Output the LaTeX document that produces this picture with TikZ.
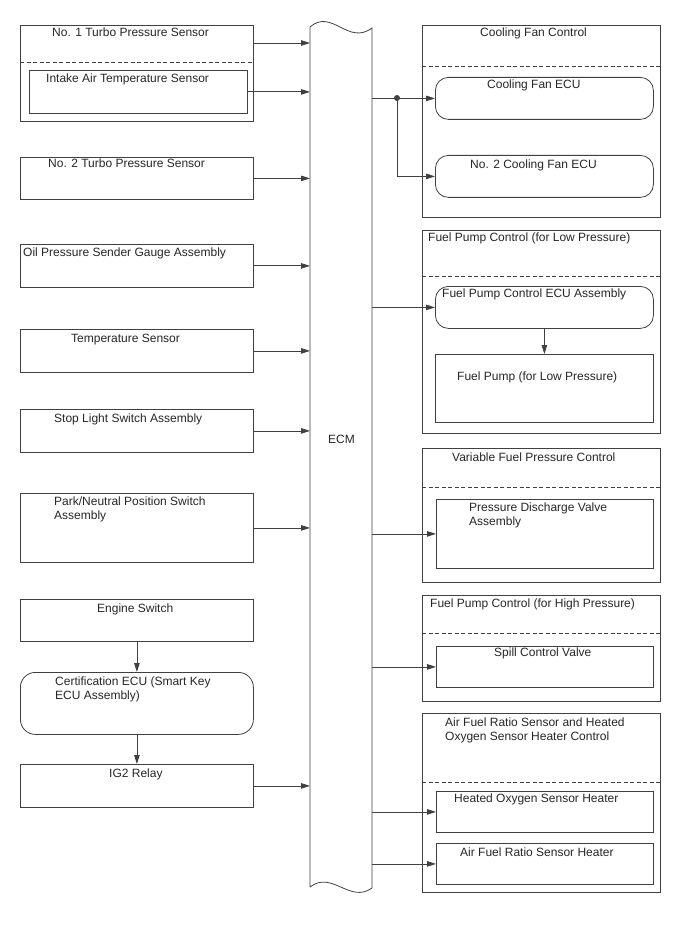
\documentclass[tikz,border=0pt]{standalone}
\usepackage{fontspec}
\setmainfont{Liberation Sans}
\usetikzlibrary{arrows.meta}
\definecolor{khung}{RGB}{64,64,64}

\begin{document}
\begin{tikzpicture}[x=1pt, y=-1pt, >={Triangle[length=9pt,width=5.5pt]},
    every node/.style={font=\fontsize{12}{14}\selectfont, text=black!85},
    hop/.style={draw=khung, line width=0.8pt, anchor=north west, inner sep=0pt, minimum height=42pt},
    hoptron/.style={hop, rounded corners=13pt},
    nhan/.style={anchor=base west, inner sep=0pt, align=left},
    duong/.style={draw=khung, line width=0.8pt},
    gach/.style={khung, line width=0.8pt, dash pattern=on 4pt off 2.5pt}]
    \useasboundingbox (0,0) rectangle (688,949);
    % Các cảm biến bên trái
    \node[hop, minimum width=233pt, minimum height=96pt] (turbo1) at (20,25) {};
    \draw[gach] (20,62) -- (253,62);
    \node[hop, minimum width=218pt, minimum height=43pt] (intake) at (29,70) {};
    \node[hop, minimum width=233pt] (turbo2) at (20,157) {};
    \node[hop, minimum width=233pt, minimum height=43pt] (oil) at (20,244) {};
    \node[hop, minimum width=233pt, minimum height=43pt] (temp) at (20,329) {};
    \node[hop, minimum width=233pt, minimum height=43pt] (stop) at (20,409) {};
    \node[hop, minimum width=233pt, minimum height=69pt] (park) at (20,493) {};
    \node[hop, minimum width=233pt] (engine) at (20,599) {};
    \node[hoptron, minimum width=233pt, minimum height=62pt, rounded corners=15pt] (cert) at (20,672) {};
    \node[hop, minimum width=233pt, minimum height=43pt] (ig2) at (20,764) {};
    % (nhãn hai dòng: tọa độ là đường cơ sở của dòng cuối)
    \node[nhan] (lturbo1) at (52,37) {No. 1 Turbo Pressure Sensor};
    \node[nhan] (lintake) at (46,82.5) {Intake Air Temperature Sensor};
    \node[nhan] (lturbo2) at (48,168) {No. 2 Turbo Pressure Sensor};
    \node[nhan] (loil) at (23,257) {Oil Pressure Sender Gauge Assembly};
    \node[nhan] (ltemp) at (71,342) {Temperature Sensor};
    \node[nhan] (lstop) at (54,422) {Stop Light Switch Assembly};
    \node[nhan] (lpark) at (54,519) {Park/Neutral Position Switch\\Assembly};
    \node[nhan] (lengine) at (97,612) {Engine Switch};
    \node[nhan] (lcert) at (55,699) {Certification ECU (Smart Key\\ECU Assembly)};
    \node[nhan] (lig2) at (109,777) {IG2 Relay};
    % ECM
    \node[anchor=north west, inner sep=0pt, minimum width=62pt, minimum height=861pt] (ecm) at (310,27) {};
    \draw[duong] (310,887) -- (310,27) .. controls (332,8) and (348,46) .. (372,28)
        -- (372,888) .. controls (350,904) and (332,870) .. (310,887);
    \node[nhan] (lecm) at (328,443) {ECM};
    % Các khối điều khiển bên phải
    \node[hop, minimum width=238pt, minimum height=192pt] (cfc) at (422,25) {};
    \draw[gach] (422,66) -- (660,66);
    \node[hoptron, minimum width=218pt] (cfecu) at (435,77) {};
    \node[hoptron, minimum width=218pt] (cfecu2) at (435,155) {};
    \node[hop, minimum width=238pt, minimum height=203pt] (fpl) at (422,230) {};
    \draw[gach] (422,276) -- (660,276);
    \node[hoptron, minimum width=218pt] (fpecu) at (435,286) {};
    \node[hop, minimum width=218pt, minimum height=68pt] (fpump) at (435,354) {};
    \node[hop, minimum width=238pt, minimum height=134pt] (vfp) at (422,448) {};
    \draw[gach] (422,487) -- (660,487);
    \node[hop, minimum width=217pt, minimum height=69pt] (pdv) at (436,499) {};
    \node[hop, minimum width=238pt, minimum height=106pt] (fph) at (422,595) {};
    \draw[gach] (422,633) -- (660,633);
    \node[hop, minimum width=217pt, minimum height=41pt] (spill) at (436,646) {};
    \node[hop, minimum width=238pt, minimum height=179pt] (afr) at (422,713) {};
    \draw[gach] (422,782) -- (660,782);
    \node[hop, minimum width=217pt, minimum height=41pt] (hoh) at (436,791) {};
    \node[hop, minimum width=217pt, minimum height=41pt] (afrh) at (436,843) {};
    \node[nhan] (lcfc) at (480,37) {Cooling Fan Control};
    \node[nhan] (lcfecu) at (487,88.5) {Cooling Fan ECU};
    \node[nhan] (lcfecu2) at (470,169) {No. 2 Cooling Fan ECU};
    \node[nhan] (lfpl) at (428,242) {Fuel Pump Control (for Low Pressure)};
    \node[nhan] (lfpecu) at (442,297.5) {Fuel Pump Control ECU Assembly};
    \node[nhan] (lfpump) at (457,380) {Fuel Pump (for Low Pressure)};
    \node[nhan] (lvfp) at (452,461.5) {Variable Fuel Pressure Control};
    \node[nhan] (lpdv) at (469,525.5) {Pressure Discharge Valve\\Assembly};
    \node[nhan] (lfph) at (430,607) {Fuel Pump Control (for High Pressure)};
    \node[nhan] (lspill) at (494,656.5) {Spill Control Valve};
    \node[nhan] (lafr) at (445,740) {Air Fuel Ratio Sensor and Heated\\Oxygen Sensor Heater Control};
    \node[nhan] (lhoh) at (454,802.5) {Heated Oxygen Sensor Heater};
    \node[nhan] (lafrh) at (460,856) {Air Fuel Ratio Sensor Heater};
    % Mũi tên vào ECM
    \draw[duong,->] (turbo1.east |- 0,43) -- (ecm.west |- 0,43);
    \foreach \n in {intake,turbo2,oil,temp,stop,park,ig2}
        \draw[duong,->] (\n.east) -- (\n.east -| ecm.west);
    \draw[duong,->] (engine) -- (cert);
    \draw[duong,->] (cert) -- (ig2);
    % Mũi tên ra từ ECM
    \coordinate (tach) at (397,98);
    \draw[duong,->] (ecm.east |- cfecu) -- (cfecu.west);
    \draw[duong,->] (tach) |- (cfecu2.west);
    \fill[khung] (tach) circle (3pt);
    \foreach \n in {fpecu,pdv,spill,hoh,afrh}
        \draw[duong,->] (\n.west -| ecm.east) -- (\n.west);
    \draw[duong,->] (fpecu) -- (fpump);
\end{tikzpicture}
\end{document}
